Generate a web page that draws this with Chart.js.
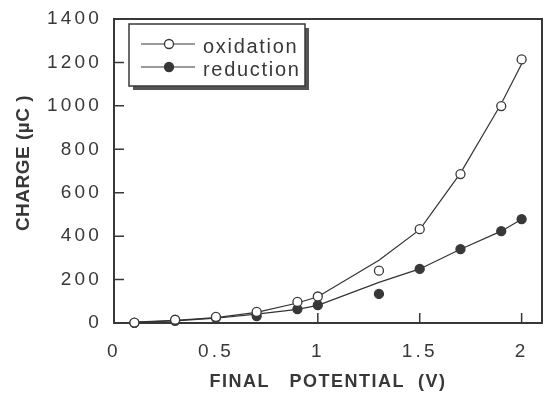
<!DOCTYPE html>
<html>
<head>
<meta charset="utf-8">
<script src="https://cdn.jsdelivr.net/npm/chart.js@4/dist/chart.umd.min.js"></script>
<style>
  html,body{margin:0;padding:0;background:#fff;}
  #wrap{width:550px;height:399px;position:relative;}
</style>
</head>
<body>
<div id="wrap"><canvas id="charge-chart"></canvas></div>
<script>
// final potential (V) and measured charge (uC)
const potential=[0.1,0.3,0.5,0.7,0.9,1.0,1.3,1.5,1.7,1.9,2.0];
const oxidation=[2,15,28,51,97,122,241,432,686,999,1214];
const reduction=[1,10,24,32,64,82,134,249,340,423,478];
// the smooth fit lines drawn through the points
const oxidationFit=[4,12,25,49,92,121,289,430,690,1010,1193];
const reductionFit=[3,10,22,41,63,81,187,249,340,423,478];
const xTicks=[0,0.5,1,1.5,2];
const yTicks=[0,200,400,600,800,1000,1200,1400];
const seriesNames=['oxidation','reduction'];

const ink='#383838';
const fontFam='"Liberation Sans", Arial, Helvetica, sans-serif';

const toPoints=(ys)=>potential.map((v,i)=>({x:v,y:ys[i]}));

// frame round the plot and the small inward tick marks
const frameTicks={
  id:'frameTicks',
  beforeDraw(chart){
    chart.ctx.letterSpacing='3.2px';
  },
  beforeDatasetsDraw(chart){
    const {ctx, chartArea:{top,bottom,left,right}, scales:{x,y}}=chart;
    ctx.save();
    ctx.strokeStyle=ink;
    ctx.lineWidth=2;
    ctx.strokeRect(left,top,right-left,bottom-top);
    ctx.lineWidth=1.5;
    ctx.beginPath();
    y.ticks.forEach(t=>{
      if(t.value>0 && t.value<y.max){
        const py=y.getPixelForValue(t.value);
        ctx.moveTo(left,py); ctx.lineTo(left+10,py);
      }
    });
    x.ticks.forEach(t=>{
      if(t.value>0){
        const px=x.getPixelForValue(t.value);
        ctx.moveTo(px,bottom); ctx.lineTo(px,bottom-10);
      }
    });
    ctx.stroke();
    ctx.restore();
  }
};

// boxed legend with a drop shadow, and the two axis titles
const legendTitles={
  id:'legendTitles',
  afterDraw(chart){
    const {ctx, chartArea:{top,bottom,left,right}}=chart;
    ctx.save();
    const bx=left+15, by=top+5, bw=176, bh=62;
    ctx.fillStyle='#555';
    ctx.fillRect(bx+4,by+4,bw,bh);
    ctx.fillStyle='#fff';
    ctx.fillRect(bx,by,bw,bh);
    ctx.strokeStyle=ink;
    ctx.lineWidth=1.5;
    ctx.strokeRect(bx,by,bw,bh);

    ctx.font='20px '+fontFam;
    ctx.letterSpacing='1.7px';
    ctx.textAlign='left';
    ctx.textBaseline='alphabetic';
    seriesNames.forEach((name,i)=>{
      const ly=by+20+i*23;
      ctx.strokeStyle=ink;
      ctx.lineWidth=1.2;
      ctx.beginPath();
      ctx.moveTo(bx+12,ly); ctx.lineTo(bx+66,ly);
      ctx.stroke();
      ctx.beginPath();
      ctx.arc(bx+40,ly,4.5,0,Math.PI*2);
      ctx.fillStyle=i===0?'#fff':ink;
      ctx.fill();
      ctx.lineWidth=1.3;
      ctx.stroke();
      ctx.fillStyle=ink;
      ctx.fillText(name,bx+74,ly+9);
    });

    ctx.fillStyle=ink;
    ctx.font='bold 18px '+fontFam;
    ctx.letterSpacing='1.5px';
    ctx.textAlign='center';
    ctx.fillText('FINAL   POTENTIAL  (V)',(left+right)/2,387);

    ctx.translate(29,163);
    ctx.rotate(-Math.PI/2);
    ctx.font='bold 19px '+fontFam;
    ctx.letterSpacing='0.5px';
    ctx.fillText('CHARGE (\u00b5C )',0,0);
    ctx.restore();
  }
};

let chargeCanvas=document.getElementById('charge-chart').getContext('2d');
let chargeConfig={
  type:'scatter',
  data:{
    datasets:[
      {
        label:seriesNames[0],
        data:toPoints(oxidation),
        showLine:false,
        pointRadius:4.5,
        pointBackgroundColor:'#fff',
        pointBorderColor:ink,
        pointBorderWidth:1.3,
        clip:false
      },
      {
        label:seriesNames[1],
        data:toPoints(reduction),
        showLine:false,
        pointRadius:4.5,
        pointBackgroundColor:ink,
        pointBorderColor:ink,
        pointBorderWidth:1.3,
        clip:false
      },
      {
        label:'oxidation fit',
        data:toPoints(oxidationFit),
        showLine:true,
        pointRadius:0,
        borderColor:'#333',
        borderWidth:1.2,
        tension:0
      },
      {
        label:'reduction fit',
        data:toPoints(reductionFit),
        showLine:true,
        pointRadius:0,
        borderColor:'#333',
        borderWidth:1.2,
        tension:0
      }
    ]
  },
  options:{
    responsive:true,
    maintainAspectRatio:false,
    animation:false,
    layout:{padding:{left:0,right:8,top:19,bottom:0}},
    plugins:{
      legend:{display:false},
      tooltip:{enabled:false}
    },
    scales:{
      x:{
        type:'linear',
        min:0,
        max:2.1,
        grid:{display:false},
        border:{display:false},
        afterFit:(s)=>{s.height=76;},
        afterBuildTicks:(s)=>{s.ticks=xTicks.map(v=>({value:v}));},
        ticks:{
          color:ink,
          font:{family:fontFam,size:19},
          padding:9,
          maxRotation:0,
          autoSkip:false,
          callback:(v)=>String(v)
        }
      },
      y:{
        min:0,
        max:1400,
        grid:{display:false},
        border:{display:false},
        afterFit:(s)=>{s.width=114;},
        afterBuildTicks:(s)=>{s.ticks=yTicks.map(v=>({value:v}));},
        ticks:{
          color:ink,
          font:{family:fontFam,size:19},
          padding:4,
          autoSkip:false,
          callback:(v)=>String(v)
        }
      }
    }
  },
  plugins:[frameTicks,legendTitles]
};
let chargeChart=new Chart(chargeCanvas,chargeConfig);
</script>
</body>
</html>
